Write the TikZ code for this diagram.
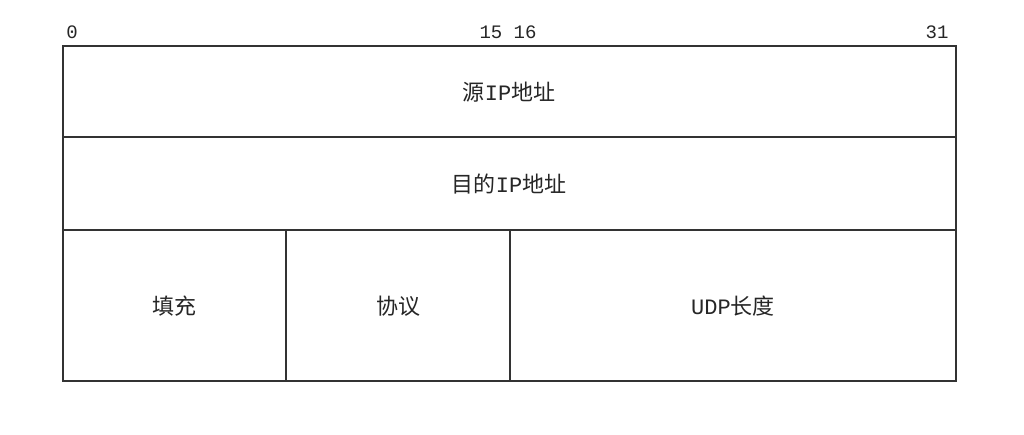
\documentclass[tikz,border=0pt]{standalone}
\usepackage{fontspec}
\newfontfamily\cjk{Noto Sans CJK SC}
\newfontfamily\mono{Liberation Mono}
\begin{document}
\begin{tikzpicture}[x=1pt,y=-1pt,
  cell/.style={draw=black!80,line width=1.6pt},
  lab/.style={font=\cjk\fontsize{22}{26}\selectfont,text=black!85},
  num/.style={font=\mono\fontsize{19}{21}\selectfont,text=black!85,inner sep=0pt,anchor=base}]
\fill[white] (0,0) rectangle (1024,435);
\useasboundingbox (0,0) rectangle (1024,435);
\coordinate (tl) at (63,46);
\coordinate (br) at (956,381);
\draw[cell] (63,46) rectangle (956,381);
\draw[cell] (63,137) -- (956,137);
\draw[cell] (63,230) -- (956,230);
\draw[cell] (286,230) -- (286,381);
\draw[cell] (510,230) -- (510,381);
\node[num] (n0) at (72,39) {0};
\node[num] (n15) at (508,39) {15 16};
\node[num] (n31) at (937,39) {31};
\node[lab] (src) at (509,92) {源{\mono IP}地址};
\node[lab] (dst) at (509,184) {目的{\mono IP}地址};
\node[lab] (pad) at (174,306) {填充};
\node[lab] (proto) at (398,306) {协议};
\node[lab] (len) at (733,306) {{\mono UDP}长度};
\end{tikzpicture}
\end{document}
